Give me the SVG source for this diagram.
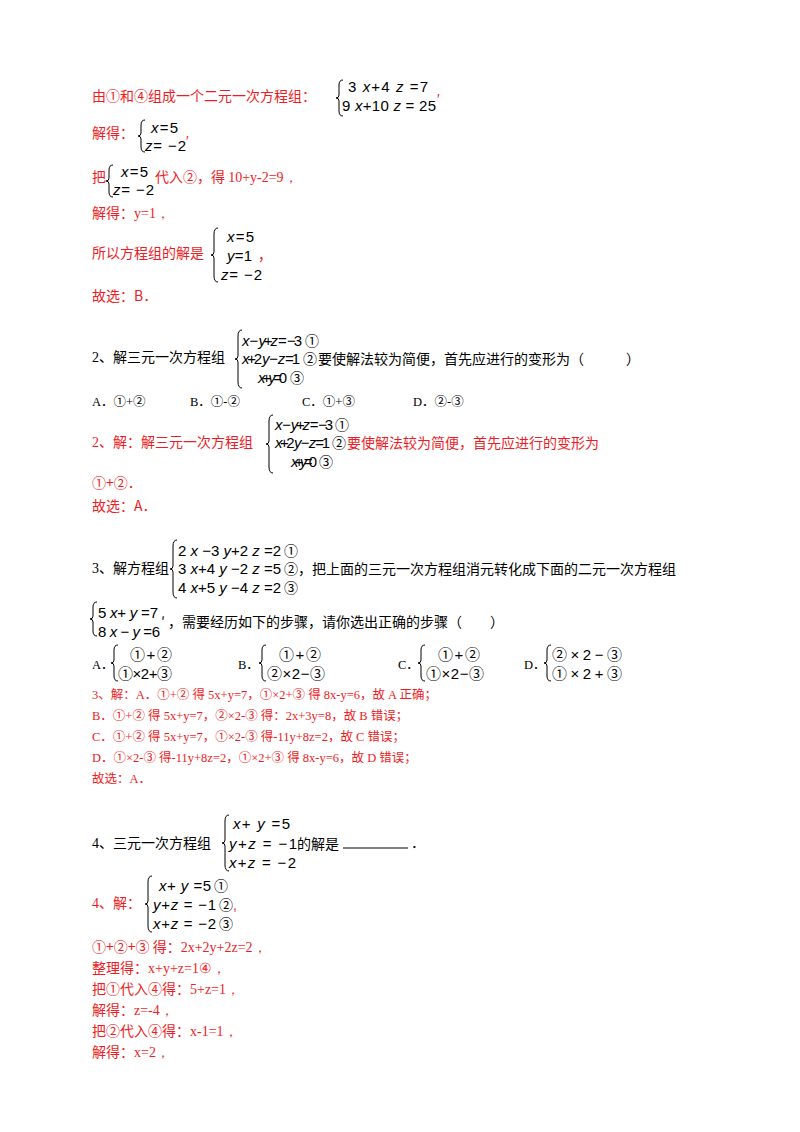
<svg xmlns="http://www.w3.org/2000/svg" width="800" height="1132" viewBox="0 0 800 1132">
<style>
text{font-family:"Liberation Sans","Noto Sans CJK SC",sans-serif;font-size:14px;fill:#000}
.r{fill:#ee1c25}
.c{font-family:"Noto Sans CJK SC",sans-serif}
.s{font-family:"Liberation Serif","Noto Sans CJK SC",serif;font-size:12.5px}
.m{font-family:"Liberation Sans","Noto Sans CJK SC",sans-serif;font-size:15px}
.n{font-family:"Noto Sans CJK SC",sans-serif;font-size:14px}
.i{font-style:italic}
.b{fill:none;stroke:#000;stroke-width:1}
</style>
<rect width="800" height="1132" fill="#fff"/>
<g id="s1">
<text x="92" y="101" class="r c">由①和④组成一个二元一次方程组：</text>
<path class="b" d="M343,80 q-4,0 -4,5 v10 q0,3 -3,3 q3,0 3,3 v10 q0,5 4,5"/>
<text x="348" y="92" class="m" textLength="80" lengthAdjust="spacing">3 <tspan class="i">x</tspan>+4 <tspan class="i">z</tspan> =7</text>
<text x="342" y="111" class="m" textLength="94" lengthAdjust="spacing">9 <tspan class="i">x</tspan>+10 <tspan class="i">z</tspan> = 25</text>
<text x="437" y="104" class="r">′</text>
<text x="92" y="138" class="r c">解得：</text>
<path class="b" d="M145,120 q-4,0 -4,5 v8 q0,3 -3,3 q3,0 3,3 v8 q0,5 4,5"/>
<text x="151" y="133" class="m" textLength="27" lengthAdjust="spacing"><tspan class="i">x</tspan>=5</text>
<text x="145" y="151" class="m" textLength="41" lengthAdjust="spacing"><tspan class="i">z</tspan>= −2</text>
<text x="186" y="146" class="r">′</text>
<text x="92" y="182" class="r c">把</text>
<path class="b" d="M113,165 q-4,0 -4,5 v8 q0,3 -3,3 q3,0 3,3 v8 q0,5 4,5"/>
<text x="121" y="177" class="m" textLength="27" lengthAdjust="spacing"><tspan class="i">x</tspan>=5</text>
<text x="113" y="195" class="m" textLength="41" lengthAdjust="spacing"><tspan class="i">z</tspan>= −2</text>
<text x="155" y="182" class="r"><tspan class="c">代入②，得 </tspan><tspan font-family="Liberation Serif">10+y-2=9，</tspan></text>
<text x="92" y="218" class="r"><tspan class="c">解得：</tspan><tspan font-family="Liberation Serif">y=1，</tspan></text>
<text x="92" y="258" class="r c">所以方程组的解是</text>
<path class="b" d="M218,228 q-4,0 -4,6 v18 q0,3 -3,3 q3,0 3,3 v18 q0,6 4,6"/>
<text x="227" y="242" class="m" textLength="27" lengthAdjust="spacing"><tspan class="i">x</tspan>=5</text>
<text x="227" y="261" class="m" textLength="25" lengthAdjust="spacing"><tspan class="i">y</tspan>=1</text>
<text x="221" y="280" class="m" textLength="41" lengthAdjust="spacing"><tspan class="i">z</tspan>= −2</text>
<text x="258" y="260" class="r">，</text>
<text x="92" y="301" class="r c">故选：B．</text>
</g>
<g id="q2">
<text x="92" y="362"><tspan font-family="Liberation Serif">2</tspan><tspan class="c">、解三元一次方程组</tspan></text>
<path class="b" d="M242,330 q-4,0 -4,6 v20 q0,3 -3,3 q3,0 3,3 v20 q0,6 4,6"/>
<text x="242" y="346" class="m" textLength="60" lengthAdjust="spacing"><tspan class="i">x</tspan> − <tspan class="i">y</tspan>+<tspan class="i">z</tspan> = −3</text>
<text x="305" y="346" class="n">①</text>
<text x="242" y="364" class="m" textLength="58" lengthAdjust="spacing"><tspan class="i">x</tspan>+2 <tspan class="i">y</tspan> − <tspan class="i">z</tspan> =1</text>
<text x="303" y="364" class="n">②</text>
<text x="258" y="383" class="m" textLength="29" lengthAdjust="spacing"><tspan class="i">x</tspan>+ <tspan class="i">y</tspan> =0</text>
<text x="290" y="383" class="n">③</text>
<text x="318" y="364" class="c">要使解法较为简便，首先应进行的变形为（　　　）</text>
<text x="92" y="406" class="s">A．①+②</text>
<text x="190" y="406" class="s">B．①-②</text>
<text x="302" y="406" class="s">C．①+③</text>
<text x="413" y="406" class="s">D．②-③</text>
<text x="92" y="447" class="r"><tspan font-family="Liberation Serif">2</tspan><tspan class="c">、解：解三元一次方程组</tspan></text>
<path class="b" d="M273,415 q-4,0 -4,6 v20 q0,3 -3,3 q3,0 3,3 v20 q0,6 4,6"/>
<text x="275" y="430" class="m" textLength="58" lengthAdjust="spacing"><tspan class="i">x</tspan> − <tspan class="i">y</tspan>+<tspan class="i">z</tspan> = −3</text>
<text x="335" y="430" class="n">①</text>
<text x="275" y="448" class="m" textLength="55" lengthAdjust="spacing"><tspan class="i">x</tspan>+2 <tspan class="i">y</tspan> − <tspan class="i">z</tspan> =1</text>
<text x="332" y="448" class="n">②</text>
<text x="291" y="467" class="m" textLength="26" lengthAdjust="spacing"><tspan class="i">x</tspan>+ <tspan class="i">y</tspan> =0</text>
<text x="319" y="467" class="n">③</text>
<text x="347" y="448" class="r c">要使解法较为简便，首先应进行的变形为</text>
<text x="92" y="488" class="r c">①+②．</text>
<text x="92" y="511" class="r c">故选：A．</text>
</g>
<g id="q3">
<text x="92" y="573"><tspan font-family="Liberation Serif">3</tspan><tspan class="c">、解方程组</tspan></text>
<path class="b" d="M177,540 q-4,0 -4,6 v20 q0,3 -3,3 q3,0 3,3 v20 q0,6 4,6"/>
<text x="178" y="556" class="m" textLength="103" lengthAdjust="spacing">2 <tspan class="i">x</tspan> −3 <tspan class="i">y</tspan>+2 <tspan class="i">z</tspan> =2</text>
<text x="284" y="556" class="n">①</text>
<text x="178" y="574" class="m" textLength="103" lengthAdjust="spacing">3 <tspan class="i">x</tspan>+4 <tspan class="i">y</tspan> −2 <tspan class="i">z</tspan> =5</text>
<text x="284" y="574" class="n">②</text>
<text x="178" y="593" class="m" textLength="103" lengthAdjust="spacing">4 <tspan class="i">x</tspan>+5 <tspan class="i">y</tspan> −4 <tspan class="i">z</tspan> =2</text>
<text x="284" y="593" class="n">③</text>
<text x="298" y="574" class="c">，把上面的三元一次方程组消元转化成下面的二元一次方程组</text>
<path class="b" d="M97,602 q-4,0 -4,5 v9 q0,3 -3,3 q3,0 3,3 v9 q0,5 4,5"/>
<text x="98" y="618" class="m" textLength="60" lengthAdjust="spacing">5 <tspan class="i">x</tspan>+ <tspan class="i">y</tspan> =7</text>
<text x="98" y="637" class="m" textLength="62" lengthAdjust="spacing">8 <tspan class="i">x</tspan> − <tspan class="i">y</tspan> =6</text>
<text x="161" y="627" class="c">′</text>
<text x="168" y="627" class="c" font-size="12">，需要经历如下的步骤，请你选出正确的步骤（　　）</text>
<text x="92" y="669" class="s">A．</text>
<path class="b" d="M118,645 q-4,0 -4,5 v10 q0,3 -3,3 q3,0 3,3 v10 q0,5 4,5"/>
<text x="130" y="660" class="m" textLength="42" lengthAdjust="spacing">①+②</text>
<text x="118" y="679" class="m" textLength="54" lengthAdjust="spacing">①×2+③</text>
<text x="238" y="669" class="s">B．</text>
<path class="b" d="M266,645 q-4,0 -4,5 v10 q0,3 -3,3 q3,0 3,3 v10 q0,5 4,5"/>
<text x="279" y="660" class="m" textLength="42" lengthAdjust="spacing">①+②</text>
<text x="267" y="679" class="m" textLength="58" lengthAdjust="spacing">②×2−③</text>
<text x="398" y="669" class="s">C．</text>
<path class="b" d="M425,645 q-4,0 -4,5 v10 q0,3 -3,3 q3,0 3,3 v10 q0,5 4,5"/>
<text x="438" y="660" class="m" textLength="42" lengthAdjust="spacing">①+②</text>
<text x="426" y="679" class="m" textLength="58" lengthAdjust="spacing">①×2−③</text>
<text x="524" y="669" class="s">D．</text>
<path class="b" d="M551,645 q-4,0 -4,5 v10 q0,3 -3,3 q3,0 3,3 v10 q0,5 4,5"/>
<text x="552" y="660" class="m" textLength="70" lengthAdjust="spacing">②×2−③</text>
<text x="552" y="679" class="m" textLength="70" lengthAdjust="spacing">①×2+③</text>
<text x="92" y="699" class="r s">3、解：A．①+② 得 5x+y=7，①×2+③ 得 8x-y=6，故 A 正确；</text>
<text x="92" y="720" class="r s">B．①+② 得 5x+y=7，②×2-③ 得：2x+3y=8，故 B 错误；</text>
<text x="92" y="741" class="r s">C．①+② 得 5x+y=7，①×2-③ 得-11y+8z=2，故 C 错误；</text>
<text x="92" y="762" class="r s">D．①×2-③ 得-11y+8z=2，①×2+③ 得 8x-y=6，故 D 错误；</text>
<text x="92" y="783" class="r s">故选：A．</text>
</g>
<g id="q4">
<text x="92" y="848"><tspan font-family="Liberation Serif">4</tspan><tspan class="c">、三元一次方程组</tspan></text>
<path class="b" d="M229,815 q-4,0 -4,6 v19 q0,3 -3,3 q3,0 3,3 v19 q0,6 4,6"/>
<text x="233" y="829" class="m" textLength="57" lengthAdjust="spacing"><tspan class="i">x</tspan>+ <tspan class="i">y</tspan> =5</text>
<text x="229" y="849" class="m" textLength="68" lengthAdjust="spacing"><tspan class="i">y</tspan>+<tspan class="i">z</tspan> = −1</text>
<text x="297" y="849" class="c">的解是</text>
<text x="229" y="868" class="m" textLength="67" lengthAdjust="spacing"><tspan class="i">x</tspan>+<tspan class="i">z</tspan> = −2</text>
<line x1="343" y1="848" x2="408" y2="848" stroke="#000" stroke-width="1"/>
<text x="411" y="848">．</text>
<text x="92" y="908" class="r"><tspan font-family="Liberation Serif">4</tspan><tspan class="c">、解：</tspan></text>
<path class="b" d="M152,876 q-4,0 -4,6 v19 q0,3 -3,3 q3,0 3,3 v19 q0,6 4,6"/>
<text x="159" y="891" class="m" textLength="52" lengthAdjust="spacing"><tspan class="i">x</tspan>+ <tspan class="i">y</tspan> =5</text>
<text x="214" y="891" class="n">①</text>
<text x="153" y="910" class="m" textLength="63" lengthAdjust="spacing"><tspan class="i">y</tspan>+<tspan class="i">z</tspan> = −1</text>
<text x="219" y="910" class="n">②</text>
<text x="233" y="910" class="r">,</text>
<text x="153" y="929" class="m" textLength="63" lengthAdjust="spacing"><tspan class="i">x</tspan>+<tspan class="i">z</tspan> = −2</text>
<text x="219" y="929" class="n">③</text>
<text x="92" y="952" class="r"><tspan class="c">①+②+③ 得：</tspan><tspan font-family="Liberation Serif">2x+2y+2z=2，</tspan></text>
<text x="92" y="973" class="r"><tspan class="c">整理得：</tspan><tspan font-family="Liberation Serif">x+y+z=1④，</tspan></text>
<text x="92" y="994" class="r"><tspan class="c">把①代入④得：</tspan><tspan font-family="Liberation Serif">5+z=1，</tspan></text>
<text x="92" y="1015" class="r"><tspan class="c">解得：</tspan><tspan font-family="Liberation Serif">z=-4，</tspan></text>
<text x="92" y="1036" class="r"><tspan class="c">把②代入④得：</tspan><tspan font-family="Liberation Serif">x-1=1，</tspan></text>
<text x="92" y="1057" class="r"><tspan class="c">解得：</tspan><tspan font-family="Liberation Serif">x=2，</tspan></text>
</g>
</svg>
